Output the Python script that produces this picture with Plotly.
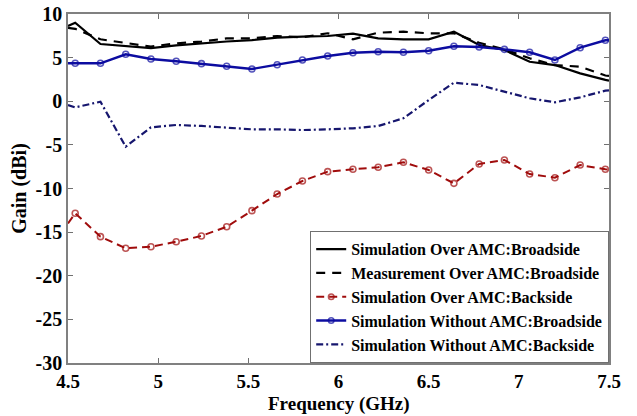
import plotly.graph_objects as go

# Frequency grid (GHz): plot edge + marker positions
freq_edge_start = 4.5
freq_edge_end = 7.5
freq = [4.54, 4.68, 4.82, 4.96, 5.10, 5.24, 5.38, 5.52, 5.66, 5.80, 5.94,
        6.08, 6.22, 6.36, 6.50, 6.64, 6.78, 6.92, 7.06, 7.20, 7.34, 7.48]

sim_amc_broad = [9.0, 6.56, 6.35, 6.1, 6.4, 6.65, 6.85, 7.0, 7.3, 7.4, 7.48,
                 7.74, 7.21, 7.10, 7.10, 7.97, 6.45, 5.87, 4.53, 4.15, 3.20, 2.45]
sim_amc_broad_ends = [8.62, 2.36]

meas_amc_broad = [8.3, 7.1, 6.64, 6.26, 6.64, 6.83, 7.21, 7.21, 7.48, 7.33, 7.79,
                  7.10, 7.86, 7.97, 7.79, 7.79, 6.71, 5.95, 4.92, 4.15, 3.96, 2.95]
meas_amc_broad_ends = [8.4, 2.9]

sim_amc_back = [-12.84, -15.52, -16.85, -16.67, -16.10, -15.44, -14.38, -12.54,
                -10.63, -9.14, -8.07, -7.80, -7.57, -7.0, -7.88, -9.41, -7.19,
                -6.73, -8.34, -8.76, -7.31, -7.80]
sim_amc_back_ends = [-14.0, -7.82]

sim_noamc_broad = [4.35, 4.35, 5.38, 4.84, 4.58, 4.31, 4.01, 3.70, 4.19, 4.73,
                   5.19, 5.56, 5.68, 5.61, 5.79, 6.30, 6.22, 5.95, 5.61, 4.73,
                   6.14, 6.99]
sim_noamc_broad_ends = [4.35, 7.0]

sim_noamc_back = [-0.70, -0.05, -5.21, -2.99, -2.72, -2.83, -2.99, -3.22, -3.22,
                  -3.30, -3.22, -3.10, -2.84, -1.95, 0.14, 2.13, 1.86, 1.10, 0.34,
                  -0.12, 0.45, 1.21]
sim_noamc_back_ends = [-0.43, 1.25]

names = ["Simulation Over AMC:Broadside", "Measurement Over AMC:Broadside",
         "Simulation Over AMC:Backside", "Simulation Without AMC:Broadside",
         "Simulation Without AMC:Backside"]

x_ticks = [4.5, 5, 5.5, 6, 6.5, 7, 7.5]
x_tick_labels = ["4.5", "5", "5.5", "6", "6.5", "7", "7.5"]
y_ticks = [-30, -25, -20, -15, -10, -5, 0, 5, 10]
y_tick_labels = ["-30", "-25", "-20", "-15", "-10", "-5", "0", "5", "10"]
x_title = "Frequency (GHz)"
y_title = "Gain (dBi)"

xs = [freq_edge_start] + freq + [freq_edge_end]

def full(vals, ends):
    return [ends[0]] + vals + [ends[1]]

def msizes(n):
    return [0] + [6] * n + [0]

BLUE = "#0c0ca0"
RED = "#a00c0c"
NAVY = "#16166e"

fig = go.Figure()
fig.add_trace(go.Scatter(x=xs, y=full(sim_amc_broad, sim_amc_broad_ends), mode="lines",
                         name=names[0], line=dict(color="black", width=2.2)))
fig.add_trace(go.Scatter(x=xs, y=full(meas_amc_broad, meas_amc_broad_ends), mode="lines",
                         name=names[1], line=dict(color="black", width=2.2, dash="9px,7px")))
fig.add_trace(go.Scatter(x=xs, y=full(sim_amc_back, sim_amc_back_ends), mode="lines+markers",
                         name=names[2], line=dict(color=RED, width=2, dash="8px,5px"),
                         marker=dict(symbol="circle-open", size=msizes(len(freq)), color=RED,
                                     line=dict(width=1.6, color=RED))))
fig.add_trace(go.Scatter(x=xs, y=full(sim_noamc_broad, sim_noamc_broad_ends), mode="lines+markers",
                         name=names[3], line=dict(color=BLUE, width=2.4),
                         marker=dict(symbol="circle-open", size=msizes(len(freq)), color=BLUE,
                                     line=dict(width=1.6, color=BLUE))))
fig.add_trace(go.Scatter(x=xs, y=full(sim_noamc_back, sim_noamc_back_ends), mode="lines",
                         name=names[4], line=dict(color=NAVY, width=2.2, dash="7px,3px,2px,3px")))

font_family = "Liberation Serif"
fig.update_layout(
    width=637, height=416,
    margin=dict(l=68, r=28, t=14, b=53, autoexpand=False),
    paper_bgcolor="white", plot_bgcolor="white",
    font=dict(family=font_family, color="black", size=16, weight="bold"),
    showlegend=True,
    legend=dict(x=1, xanchor="right", y=0.0, yanchor="bottom",
                bgcolor="white", bordercolor="#707070", borderwidth=1.2,
                font=dict(family=font_family, size=16, color="black", weight="bold"),
                tracegroupgap=0, itemwidth=30),
)
fig.add_annotation(text=x_title, xref="paper", yref="paper", x=0.5, y=-0.118,
                   xanchor="center", yanchor="middle", showarrow=False,
                   font=dict(family=font_family, size=19, color="black", weight="bold"))
fig.update_xaxes(range=[4.5, 7.5], tickvals=x_ticks, ticktext=x_tick_labels,
                 ticks="inside", ticklen=5, tickcolor="#707070", mirror="ticks",
                 showline=True, linecolor="#808080", linewidth=1.5, showgrid=False,
                 zeroline=False, automargin=False,
                 tickfont=dict(family=font_family, size=19, color="black", weight="bold"))
fig.update_yaxes(range=[-30, 10], tickvals=y_ticks, ticktext=y_tick_labels,
                 ticks="inside", ticklen=5, tickcolor="#707070", mirror="ticks",
                 showline=True, linecolor="#808080", linewidth=1.5, showgrid=False,
                 zeroline=False, automargin=False,
                 tickfont=dict(family=font_family, size=20, color="black", weight="bold"),
                 title=dict(text=y_title, standoff=4,
                            font=dict(family=font_family, size=20, color="black", weight="bold")))

fig.write_html("out.html")
